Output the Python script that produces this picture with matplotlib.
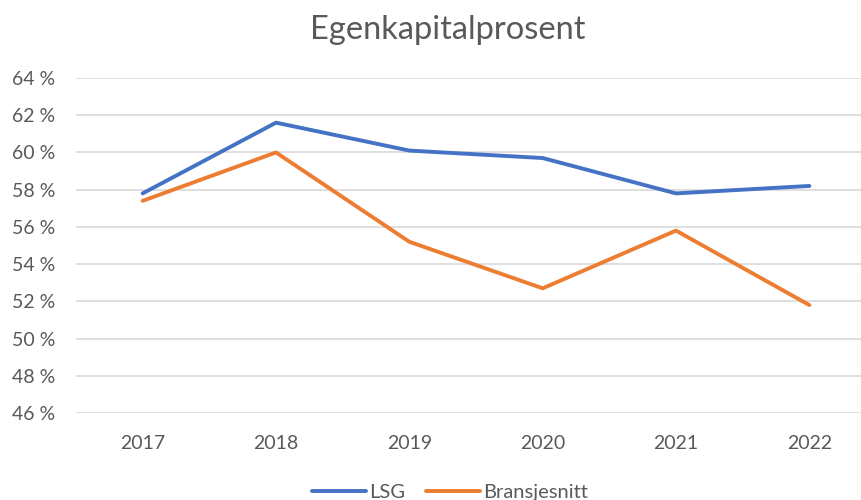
import matplotlib
matplotlib.use("Agg")
import matplotlib.pyplot as plt
from matplotlib.ticker import FuncFormatter

years = ["2017", "2018", "2019", "2020", "2021", "2022"]
lsg = [57.8, 61.6, 60.1, 59.7, 57.8, 58.2]
bransjesnitt = [57.4, 60.0, 55.2, 52.7, 55.8, 51.8]
y_ticks = [46, 48, 50, 52, 54, 56, 58, 60, 62, 64]

plt.rcParams["font.family"] = ["Lato", "DejaVu Sans"]
text_color = "#595959"

fig = plt.figure(figsize=(8.61, 5.0), dpi=100)
ax = fig.add_axes([76 / 861, 87 / 500, 800 / 861, 335 / 500])

x = range(len(years))
ax.plot(x, lsg, color="#4472C4", linewidth=2.8, label="LSG", solid_capstyle="round")
ax.plot(x, bransjesnitt, color="#ED7D31", linewidth=2.8, label="Bransjesnitt",
        solid_capstyle="round")

ax.set_xlim(-0.5, len(years) - 0.5)
ax.set_ylim(46, 64)
ax.set_yticks(y_ticks)
ax.yaxis.set_major_formatter(FuncFormatter(lambda v, _: f"{v:.0f} %"))
ax.set_xticks(list(x))
ax.set_xticklabels(years)
ax.grid(axis="y", color="#D9D9D9", linewidth=1.2)
ax.set_axisbelow(True)
for s in ax.spines.values():
    s.set_visible(False)
ax.tick_params(length=0, labelsize=14, colors=text_color)
ax.tick_params(axis="y", pad=15)
ax.tick_params(axis="x", pad=16)

fig.text(448 / 861, 0.94, "Egenkapitalprosent", ha="center", va="center",
         fontsize=23.5, color=text_color)

fig.legend(loc="center", bbox_to_anchor=(450 / 861, 0.016), ncol=2, frameon=False,
           fontsize=14.5, labelcolor=text_color, handlelength=2.7,
           handletextpad=0.15, columnspacing=1.0)

fig.savefig("out.png", dpi=100)
